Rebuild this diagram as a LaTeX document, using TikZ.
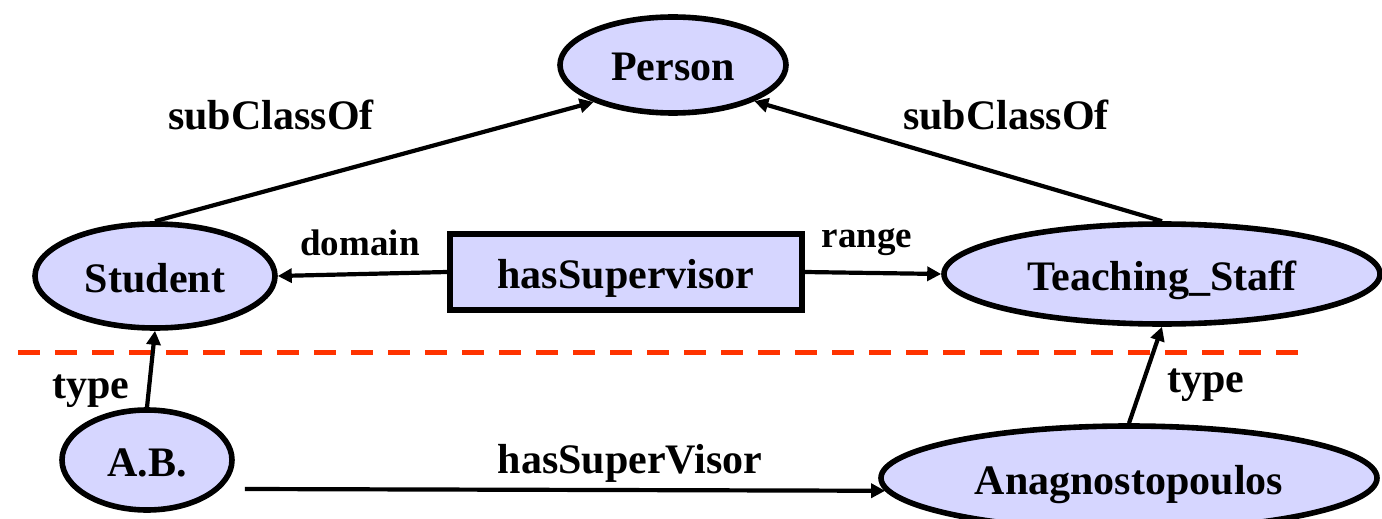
\documentclass[tikz,border=0pt]{standalone}
\usepackage{fontspec}
\setmainfont{Liberation Serif}
\usepackage{tikz}
\usetikzlibrary{arrows.meta,shapes.geometric}
\usepackage{xcolor}
\definecolor{classfill}{RGB}{214,214,255}
\definecolor{cutred}{RGB}{255,51,0}

\begin{document}
\begin{tikzpicture}[x=0.5pt,y=-0.5pt,
    font=\bfseries\fontsize{21pt}{25pt}\selectfont,
    cls/.style={ellipse,draw,line width=2.8pt,fill=classfill,inner sep=0pt,
      text height=18pt,text depth=2pt},
    prop/.style={rectangle,draw,line width=2.8pt,fill=classfill,inner sep=0pt,
      text height=18pt,text depth=2pt},
    rel/.style={-{Triangle[length=7pt,width=7pt]},line width=2.1pt},
    lbl/.style={anchor=base},
    small/.style={font=\bfseries\fontsize{18.5pt}{22pt}\selectfont}]
  \useasboundingbox (0,0) rectangle (1382,519);
  % schema level
  \node[cls,minimum width=113pt,minimum height=48pt] (person) at (673,65) {Person};
  \node[cls,minimum width=120pt,minimum height=52pt] (student) at (155,276) {Student};
  \node[prop,minimum width=176pt,minimum height=38pt] (hassup) at (626,272) {hasSupervisor};
  \node[cls,minimum width=218pt,minimum height=50pt] (teach) at (1162,274) {Teaching\_Staff};
  % instance level
  \node[cls,minimum width=85pt,minimum height=50pt] (ab) at (147,460) {A.B.};
  \node[cls,minimum width=248pt,minimum height=52pt] (anag) at (1129,478) {Anagnostopoulos};
  % separator
  \draw[cutred,line width=2.5pt,dash pattern=on 11pt off 7.5pt] (18,352) -- (1300,352);
  % connectors
  \draw[rel] (student.north) -- (person.205);
  \draw[rel] (teach.north) -- (person.336);
  \draw[rel] (hassup.west) -- (student.east);
  \draw[rel] (hassup.east) -- (teach.west);
  \draw[rel] (ab.north) -- (student.south);
  \draw[rel] (anag.north) -- (teach.south);
  \draw[rel] ([xshift=5pt,yshift=-14.5pt]ab.east) -- (anag.183);
  % labels
  \node[lbl] (subl) at (271,130) {subClassOf};
  \node[lbl] (subr) at (1006,130) {subClassOf};
  \node[lbl,small] (dom) at (360,255) {domain};
  \node[lbl,small] (rng) at (867,247) {range};
  \node[lbl] (typel) at (91,398) {type};
  \node[lbl] (typer) at (1206,392) {type};
  \node[lbl] (hsv) at (630,473) {hasSuperVisor};
\end{tikzpicture}
\end{document}
